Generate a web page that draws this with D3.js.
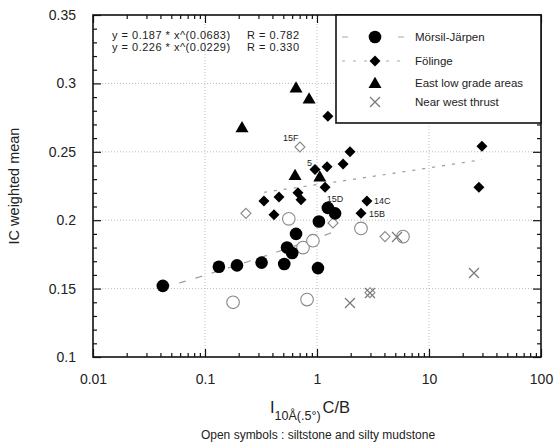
<!DOCTYPE html>
<html>
<head>
<meta charset="utf-8">
<script src="https://cdn.jsdelivr.net/npm/d3@7/dist/d3.min.js"></script>
<style>
  html, body { margin: 0; padding: 0; background: #fff; }
  svg text { font-family: "Liberation Sans", Arial, Helvetica, sans-serif; fill: #222; }
</style>
</head>
<body>
<svg id="chart" width="555" height="445"></svg>
<script>
// ---- data ----
// Mörsil-Järpen, filled (mudstone) and open (siltstone) samples
const moraX = [0.042, 0.133, 0.193, 0.32, 0.51, 0.54, 0.60, 0.65, 1.02, 1.04, 1.25, 1.45];
const moraY = [0.152, 0.166, 0.167, 0.169, 0.168, 0.180, 0.176, 0.190, 0.165, 0.199, 0.209, 0.205];
const moraOpenX = [0.178, 0.815, 0.56, 0.75, 0.92, 2.47, 5.86];
const moraOpenY = [0.140, 0.142, 0.201, 0.180, 0.185, 0.194, 0.188];

// Fölinge
const folX = [0.336, 0.458, 0.676, 0.72, 0.413, 1.18, 1.23, 1.71, 1.97, 0.96, 1.25, 2.79, 2.47, 29.7, 27.9];
const folY = [0.214, 0.217, 0.220, 0.215, 0.204, 0.224, 0.239, 0.241, 0.250, 0.237, 0.276, 0.214, 0.205, 0.254, 0.224];
const folOpenX = [0.232, 0.704, 1.39, 4.05, 2.97];
const folOpenY = [0.205, 0.2535, 0.198, 0.188, 0.147];

// East low grade areas
const eastX = [0.214, 0.65, 0.85, 0.637, 1.06];
const eastY = [0.268, 0.297, 0.289, 0.233, 0.232];

// Near west thrust
const thrustX = [1.97, 25.2, 5.18, 2.97];
const thrustY = [0.1395, 0.1614, 0.1877, 0.1468];

// sample labels: [text, x, y]
const sampleLabels = [["15F", 0.704, 0.2535], ["5", 0.96, 0.2367], ["15D", 1.25, 0.209], ["14C", 2.79, 0.214], ["15B", 2.47, 0.205]];

// power-law fits y = a * x^b
const fitMora = { a: 0.187, b: 0.0683, r: 0.782 };
const fitFol = { a: 0.226, b: 0.0229, r: 0.330 };

const xMajor = [0.01, 0.1, 1, 10, 100];
const xTickLabels = ["0.01", "0.1", "1", "10", "100"];
const yMajor = [0.1, 0.15, 0.2, 0.25, 0.3, 0.35];
const yTickLabels = ["0.1", "0.15", "0.2", "0.25", "0.3", "0.35"];

const legendNames = ["Mörsil-Järpen", "Fölinge", "East low grade areas", "Near west thrust"];

// ---- layout ----
const svg = d3.select("#chart");
const L = 93, R = 541, T = 15, B = 357;
const x = d3.scaleLog().domain([0.01, 100]).range([L, R]);
const y = d3.scaleLinear().domain([0.1, 0.35]).range([B, T]);

const xMinor = [];
for (let e = -2; e < 2; e++) for (let k = 2; k <= 9; k++) xMinor.push(k * Math.pow(10, e));
const yMinor = d3.range(11, 35).filter(v => v % 5 !== 0).map(v => v / 100);

// grid
const grid = svg.append("g").attr("stroke", "#aaa").attr("stroke-width", 0.8).attr("stroke-dasharray", "1,2");
xMajor.slice(1, -1).forEach(v => grid.append("line").attr("x1", x(v)).attr("x2", x(v)).attr("y1", T).attr("y2", B));
yMajor.slice(1, -1).forEach(v => grid.append("line").attr("x1", L).attr("x2", R).attr("y1", y(v)).attr("y2", y(v)));

// fit curves
function fitPath(f, xs) {
  const lo = d3.min(xs), hi = d3.max(xs);
  const pts = d3.range(0, 61).map(i => {
    const xv = Math.pow(10, Math.log10(lo) + (Math.log10(hi) - Math.log10(lo)) * i / 60);
    return [x(xv), y(f.a * Math.pow(xv, f.b))];
  });
  return d3.line()(pts);
}
svg.append("path").attr("d", fitPath(fitMora, moraX)).attr("fill", "none")
  .attr("stroke", "#999").attr("stroke-width", 1.2).attr("stroke-dasharray", "7,10");
svg.append("path").attr("d", fitPath(fitFol, folX)).attr("fill", "none")
  .attr("stroke", "#999").attr("stroke-width", 1.2).attr("stroke-dasharray", "3,7");

// axes (ticks pointing inward on all four sides)
function axis(gen, tx, ty) {
  const g = svg.append("g").attr("transform", `translate(${tx},${ty})`).call(gen);
  g.select(".domain").remove();
  g.selectAll("line").attr("stroke", "#111").attr("stroke-width", 1.2);
  return g;
}
const bx = axis(d3.axisBottom(x).tickValues(xMajor).tickSizeInner(-8).tickSizeOuter(0).tickPadding(17)
  .tickFormat((d, i) => xTickLabels[i]), 0, B);
bx.selectAll("text").attr("font-size", 14).attr("fill", "#333");
axis(d3.axisBottom(x).tickValues(xMinor).tickSizeInner(-4).tickSizeOuter(0).tickFormat(""), 0, B);
axis(d3.axisTop(x).tickValues(xMajor).tickSizeInner(-8).tickSizeOuter(0).tickFormat(""), 0, T);
axis(d3.axisTop(x).tickValues(xMinor).tickSizeInner(-4).tickSizeOuter(0).tickFormat(""), 0, T);
const ly = axis(d3.axisLeft(y).tickValues(yMajor).tickSizeInner(-8).tickSizeOuter(0).tickPadding(17)
  .tickFormat((d, i) => yTickLabels[i]), L, 0);
ly.selectAll("text").attr("font-size", 14).attr("fill", "#333");
axis(d3.axisLeft(y).tickValues(yMinor).tickSizeInner(-4).tickSizeOuter(0).tickFormat(""), L, 0);
axis(d3.axisRight(y).tickValues(yMajor).tickSizeInner(-8).tickSizeOuter(0).tickFormat(""), R, 0);
axis(d3.axisRight(y).tickValues(yMinor).tickSizeInner(-4).tickSizeOuter(0).tickFormat(""), R, 0);

// frame
svg.append("rect").attr("x", L).attr("y", T).attr("width", R - L).attr("height", B - T)
  .attr("fill", "none").attr("stroke", "#111").attr("stroke-width", 1.6);

// ---- markers ----
const pts = (xs, ys) => xs.map((v, i) => [v, ys[i]]);
const diamond = s => `M0,${-s}L${s},0L0,${s}L${-s},0Z`;
const triangle = s => `M0,${-s}L${s * 1.05},${s * 0.8}L${-s * 1.05},${s * 0.8}Z`;
const cross = s => `M${-s},${-s}L${s},${s}M${-s},${s}L${s},${-s}`;

const marks = svg.append("g");
marks.selectAll(".mo").data(pts(moraOpenX, moraOpenY)).join("circle")
  .attr("cx", d => x(d[0])).attr("cy", d => y(d[1])).attr("r", 6.3)
  .attr("fill", "#fff").attr("stroke", "#888").attr("stroke-width", 1.1);
marks.selectAll(".fo").data(pts(folOpenX, folOpenY)).join("path")
  .attr("transform", d => `translate(${x(d[0])},${y(d[1])})`).attr("d", diamond(5))
  .attr("fill", "#fff").attr("stroke", "#888").attr("stroke-width", 1.1);
marks.selectAll(".th").data(pts(thrustX, thrustY)).join("path")
  .attr("transform", d => `translate(${x(d[0])},${y(d[1])})`).attr("d", cross(5))
  .attr("fill", "none").attr("stroke", "#777").attr("stroke-width", 1.2);
marks.selectAll(".m").data(pts(moraX, moraY)).join("circle")
  .attr("cx", d => x(d[0])).attr("cy", d => y(d[1])).attr("r", 6.3).attr("fill", "#000");
marks.selectAll(".f").data(pts(folX, folY)).join("path")
  .attr("transform", d => `translate(${x(d[0])},${y(d[1])})`).attr("d", diamond(5.5)).attr("fill", "#000");
marks.selectAll(".e").data(pts(eastX, eastY)).join("path")
  .attr("transform", d => `translate(${x(d[0])},${y(d[1])})`).attr("d", triangle(6.2)).attr("fill", "#000");

// sample labels
const labOff = { "15F": [-17, -6, "start"], "5": [-8, -4, "start"], "15D": [-1, -6, "start"], "14C": [7, 3, "start"], "15B": [8, 4, "start"] };
svg.selectAll(".sl").data(sampleLabels).join("text")
  .attr("x", d => x(d[1]) + labOff[d[0]][0]).attr("y", d => y(d[2]) + labOff[d[0]][1])
  .attr("font-size", 9).attr("fill", "#333").text(d => d[0]);

// equations
const eq = [[fitMora, 38.5], [fitFol, 51]];
eq.forEach(([f, yy]) => {
  svg.append("text").attr("x", 112).attr("y", yy).attr("font-size", 11).attr("letter-spacing", 0.5)
    .attr("fill", "#333").text(`y = ${f.a} * x^(${f.b})`);
  svg.append("text").attr("x", 247).attr("y", yy).attr("font-size", 11).attr("letter-spacing", 0.5)
    .attr("fill", "#333").text(`R = ${f.r.toFixed(3)}`);
});

// ---- legend ----
const lg = svg.append("g");
lg.append("rect").attr("x", 336).attr("y", T).attr("width", R - 336).attr("height", 108)
  .attr("fill", "#fff").attr("stroke", "#111").attr("stroke-width", 1.6);
const rowY = [37, 61, 83, 102];
const sx = 375;
lg.append("line").attr("x1", 342).attr("x2", 408).attr("y1", rowY[0]).attr("y2", rowY[0])
  .attr("stroke", "#aaa").attr("stroke-width", 1.2).attr("stroke-dasharray", "6,22");
lg.append("line").attr("x1", 342).attr("x2", 408).attr("y1", rowY[1]).attr("y2", rowY[1])
  .attr("stroke", "#aaa").attr("stroke-width", 1.2).attr("stroke-dasharray", "3,8");
lg.append("circle").attr("cx", sx).attr("cy", rowY[0]).attr("r", 6.3).attr("fill", "#000");
lg.append("path").attr("transform", `translate(${sx},${rowY[1]})`).attr("d", diamond(5.5)).attr("fill", "#000");
lg.append("path").attr("transform", `translate(${sx},${rowY[2]})`).attr("d", triangle(6.2)).attr("fill", "#000");
lg.append("path").attr("transform", `translate(${sx},${rowY[3]})`).attr("d", cross(5))
  .attr("stroke", "#777").attr("stroke-width", 1.2);
lg.selectAll(".lt").data(legendNames).join("text")
  .attr("x", 415).attr("y", (d, i) => rowY[i] + 4).attr("font-size", 11.5).attr("fill", "#444").text(d => d);

// ---- titles ----
svg.append("text").attr("transform", "translate(19,186) rotate(-90)").attr("text-anchor", "middle")
  .attr("font-size", 14.5).attr("fill", "#333").text("IC weighted mean");

const xt = svg.append("text").attr("x", 270).attr("y", 413).attr("font-size", 16.5).attr("fill", "#333");
xt.append("tspan").text("I");
xt.append("tspan").attr("font-size", 12.5).attr("dy", 7).text("10Å(.5°)");
xt.append("tspan").attr("dy", -7).attr("dx", 2).text("C/B");

svg.append("text").attr("x", 318).attr("y", 439).attr("text-anchor", "middle")
  .attr("font-size", 12).attr("fill", "#333").text("Open symbols : siltstone and silty mudstone");
</script>
</body>
</html>
